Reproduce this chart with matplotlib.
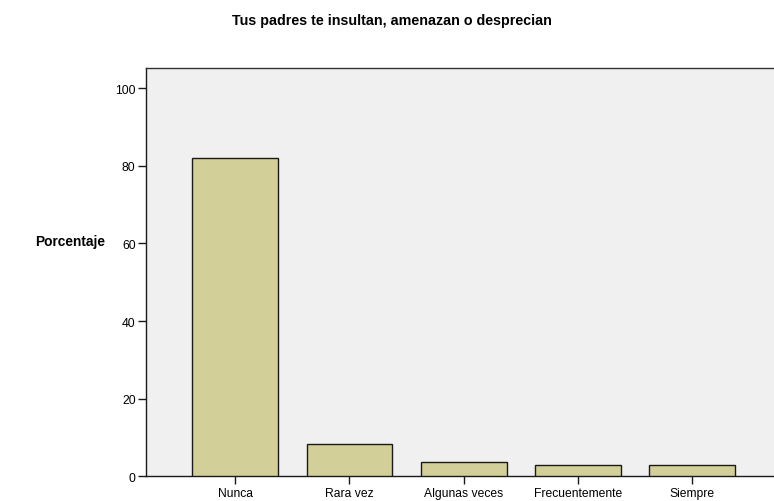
import matplotlib
matplotlib.use("Agg")
import matplotlib.pyplot as plt

categories = ["Nunca", "Rara vez", "Algunas veces", "Frecuentemente", "Siempre"]
values = [82.0, 8.3, 3.8, 3.0, 3.0]
yticks = [0, 20, 40, 60, 80, 100]

plt.rcParams['font.family'] = ['Liberation Sans', 'DejaVu Sans']

fig = plt.figure(figsize=(7.74, 5.02), dpi=100)
ax = fig.add_axes([146/774, 1 - 477.3/502, (781.5-146)/774, (477.3-69)/502])
ax.set_facecolor('#f0f0f0')
x = list(range(len(categories)))
ax.bar(x, values, width=0.75, color='#d3cf98', edgecolor='#1a1a1a', linewidth=1.0, zorder=3)
ax.set_xlim(-0.78, len(categories) - 1 + 0.78)
ax.set_ylim(0, 105.2)
ax.set_xticks(x)
ax.set_xticklabels(categories, fontsize=8.7)
ax.set_yticks(yticks)
ax.set_yticklabels([str(t) for t in yticks], fontsize=8.7)
ax.tick_params(axis='both', direction='out', length=6, width=1, color='#1a1a1a', pad=1.5)
for s in ['left', 'bottom', 'top', 'right']:
    ax.spines[s].set_color('#333333')
    ax.spines[s].set_linewidth(1)
ax.spines['left'].set_color('#1a1a1a')
ax.spines['bottom'].set_color('#1a1a1a')
fig.text(392/774, 1 - 21/502, "Tus padres te insultan, amenazan o desprecian",
         ha='center', va='center', fontsize=10.3, fontweight='bold')
fig.text(70/774, 1 - 242/502, "Porcentaje", ha='center', va='center',
         fontsize=9.9, fontweight='bold')
fig.savefig("out.png", dpi=100)
